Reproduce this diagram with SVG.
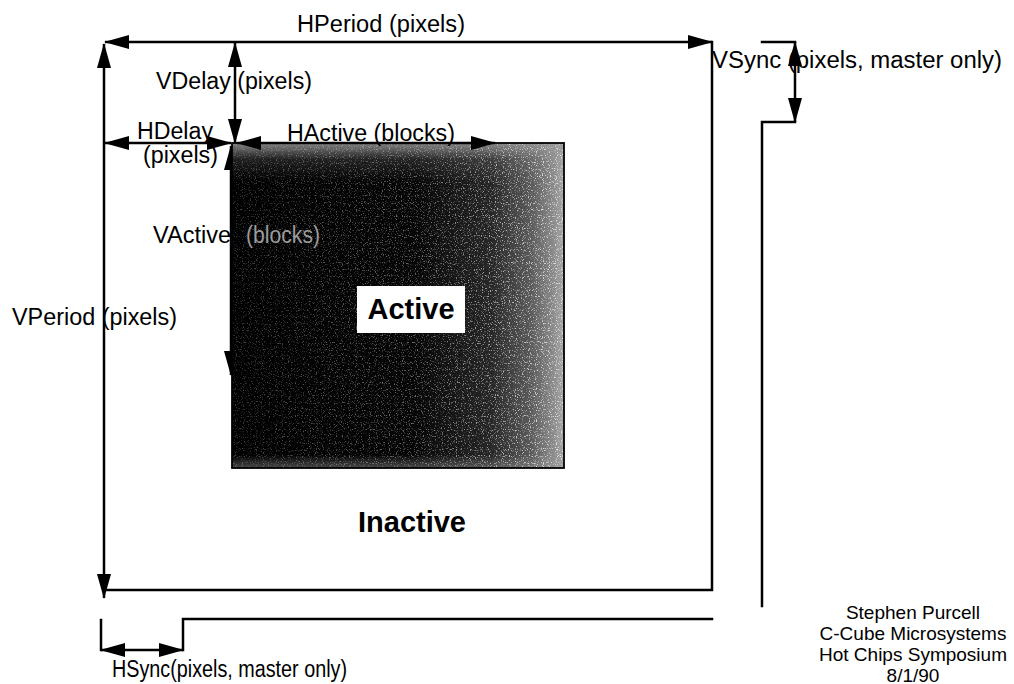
<svg xmlns="http://www.w3.org/2000/svg" width="1014" height="684" viewBox="0 0 1014 684">
  <style>
    .ln { stroke: #000; stroke-width: 2.5; fill: none; stroke-linecap: square; }
    .dim { stroke: #000; stroke-width: 2.5; fill: none; marker-start: url(#ah); marker-end: url(#ah); }
    .lbl { font-family: "Liberation Sans", Arial, sans-serif; font-size: 23px; fill: #000; }
    .big { font-family: "Liberation Sans", Arial, sans-serif; font-size: 29px; font-weight: bold; fill: #000; }
    .cred { font-family: "Liberation Sans", Arial, sans-serif; font-size: 19px; fill: #000; text-anchor: middle; }
  </style>
  <defs>
    <marker id="ah" viewBox="0 0 25 14" refX="24" refY="7" markerWidth="25" markerHeight="14" markerUnits="userSpaceOnUse" orient="auto-start-reverse">
      <path d="M0,0 L25,7 L0,14 Z" fill="#000"/>
    </marker>
    <linearGradient id="shadeH" x1="0" y1="0" x2="1" y2="0">
      <stop offset="0" stop-color="#000"/>
      <stop offset="0.55" stop-color="#060606"/>
      <stop offset="0.78" stop-color="#262626"/>
      <stop offset="0.9" stop-color="#5a5a5a"/>
      <stop offset="0.97" stop-color="#8c8c8c"/>
      <stop offset="1" stop-color="#a8a8a8"/>
    </linearGradient>
    <linearGradient id="shadeV" x1="0" y1="0" x2="0" y2="1">
      <stop offset="0" stop-color="#9a9a9a" stop-opacity="0.85"/>
      <stop offset="0.05" stop-color="#9a9a9a" stop-opacity="0.2"/>
      <stop offset="0.12" stop-color="#9a9a9a" stop-opacity="0"/>
      <stop offset="0.96" stop-color="#9a9a9a" stop-opacity="0"/>
      <stop offset="1" stop-color="#9a9a9a" stop-opacity="0.45"/>
    </linearGradient>
    <linearGradient id="maskGrad" x1="0" y1="0" x2="1" y2="0">
      <stop offset="0" stop-color="#fff" stop-opacity="0.25"/>
      <stop offset="0.6" stop-color="#fff" stop-opacity="0.45"/>
      <stop offset="1" stop-color="#fff" stop-opacity="0.9"/>
    </linearGradient>
    <mask id="speckMask">
      <rect x="232" y="143" width="332" height="325" fill="url(#maskGrad)"/>
    </mask>
    <filter id="speckle" x="0" y="0" width="100%" height="100%">
      <feTurbulence type="fractalNoise" baseFrequency="0.85" numOctaves="1" seed="7" result="n"/>
      <feColorMatrix in="n" type="matrix" values="0 0 0 0 0.85  0 0 0 0 0.85  0 0 0 0 0.85  6 0 0 0 -3.3"/>
    </filter>
  </defs>

  <!-- connectors / dimension arrows drawn under the active box -->
  <g id="connectors">
    <line id="vactive-arrow" class="dim" x1="231" y1="146" x2="231" y2="375"/>
    <line id="hperiod-arrow" class="dim" x1="105" y1="42" x2="712" y2="42"/>
    <line id="vperiod-arrow" class="dim" x1="104" y1="44" x2="104" y2="598"/>
    <line id="vdelay-arrow" class="dim" x1="235" y1="43" x2="235" y2="143"/>
    <line id="hdelay-arrow" class="dim" x1="105" y1="143" x2="231" y2="143"/>
    <polyline id="frame-edge" class="ln" points="712,42 712,590 104,590"/>
    <line id="vsync-top" class="ln" x1="762" y1="42" x2="795" y2="42"/>
    <line id="vsync-arrow" class="dim" x1="795" y1="42" x2="795" y2="122"/>
    <polyline id="vsync-wave" class="ln" points="795,122 762,122 762,606"/>
    <line id="hsync-left" class="ln" x1="101" y1="620" x2="101" y2="650"/>
    <line id="hsync-arrow" class="dim" x1="101" y1="650" x2="183" y2="650"/>
    <polyline id="hsync-wave" class="ln" points="183,650 183,619 712,619"/>
  </g>

  <g id="active-box">
    <rect x="232" y="143" width="332" height="325" fill="url(#shadeH)"/>
    <rect x="232" y="143" width="332" height="325" fill="url(#shadeV)"/>
    <rect x="232" y="143" width="332" height="325" filter="url(#speckle)" mask="url(#speckMask)"/>
    <rect x="232" y="143" width="332" height="325" fill="none" stroke="#000" stroke-width="1.8"/>
    <line id="hactive-arrow" class="dim" x1="237" y1="143" x2="495" y2="143"/>
    <rect x="357" y="286" width="108" height="47" fill="#fff"/>
    <text class="big" x="411" y="319" text-anchor="middle">Active</text>
  </g>

  <g id="inactive-label">
    <text class="big" x="412" y="532" text-anchor="middle">Inactive</text>
  </g>

  <g id="labels">
    <text class="lbl" x="297" y="32" textLength="168" lengthAdjust="spacingAndGlyphs">HPeriod (pixels)</text>
    <text class="lbl" x="156" y="89" textLength="156" lengthAdjust="spacingAndGlyphs">VDelay (pixels)</text>
    <text class="lbl" x="137" y="139" textLength="76" lengthAdjust="spacingAndGlyphs">HDelay</text>
    <text class="lbl" x="143" y="163" textLength="75" lengthAdjust="spacingAndGlyphs">(pixels)</text>
    <text class="lbl" x="287" y="141" textLength="168" lengthAdjust="spacingAndGlyphs">HActive (blocks)</text>
    <text class="lbl" x="153" y="243" textLength="78" lengthAdjust="spacingAndGlyphs">VActive</text>
    <text class="lbl" x="246" y="243" textLength="74" lengthAdjust="spacingAndGlyphs" style="fill:#9c9c9c">(blocks)</text>
    <text class="lbl" x="12" y="325" textLength="165" lengthAdjust="spacingAndGlyphs">VPeriod (pixels)</text>
    <text class="lbl" x="712" y="68" textLength="290" lengthAdjust="spacingAndGlyphs">VSync (pixels, master only)</text>
    <text class="lbl" x="112" y="677" textLength="235" lengthAdjust="spacingAndGlyphs">HSync(pixels, master only)</text>
  </g>

  <g id="credits">
    <text class="cred" x="913" y="619">Stephen Purcell</text>
    <text class="cred" x="913" y="640">C-Cube Microsystems</text>
    <text class="cred" x="913" y="661">Hot Chips Symposium</text>
    <text class="cred" x="913" y="682">8/1/90</text>
  </g>
</svg>
